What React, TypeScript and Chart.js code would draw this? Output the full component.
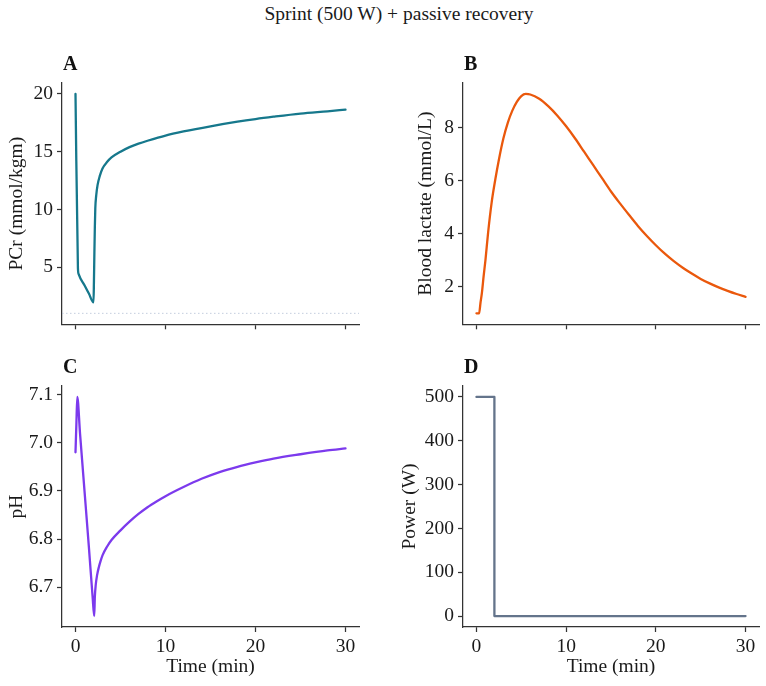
import React, { useEffect, useRef } from "react";
import { Chart, registerables } from "chart.js";

Chart.register(...registerables);

const FONT = "'Liberation Serif', 'Times New Roman', Times, serif";
const TEXT = "#1a1a1a";
const SPINE = "#333333";

const figureTitle = "Sprint (500 W) + passive recovery";
const timeLabel = "Time (min)";
const timeTicks = [0, 10, 20, 30];
const timeRange = [0, 30];

// Panel A: phosphocreatine
const pcrTime = [0, 0.27, 0.35, 1.0, 1.5, 2.0, 2.05, 2.1, 2.15, 2.2, 2.3, 2.45, 2.7, 3.0, 3.5, 4, 5, 6, 7, 8, 10, 12, 15, 18, 20, 22, 25, 28, 30];
const pcrValues = [20, 4.9, 4.4, 3.43, 2.69, 1.95, 3.8, 6.3, 8.5, 10.1, 11.2, 12.1, 12.9, 13.55, 14.1, 14.5, 15.0, 15.4, 15.7, 15.95, 16.4, 16.75, 17.2, 17.6, 17.83, 18.03, 18.3, 18.5, 18.64];
const pcrFloor = 1.0;
const pcrTicks = [5, 10, 15, 20];

// Panel B: blood lactate
const lactateTime = [0, 0.3, 0.45, 0.6, 0.8, 1.0, 1.3, 1.7, 2.1, 2.5, 3.0, 3.5, 4.0, 4.5, 5.0, 5.5, 6, 7, 8, 9, 10, 11, 12, 13, 14, 15, 16, 17, 18, 19, 20, 21, 22, 23, 24, 25, 26, 27, 28, 29, 30];
const lactateValues = [1.0, 1.0, 1.4, 1.75, 2.4, 3.0, 4.05, 5.2, 6.05, 6.8, 7.6, 8.2, 8.65, 8.98, 9.2, 9.28, 9.26, 9.1, 8.82, 8.47, 8.06, 7.6, 7.1, 6.6, 6.1, 5.6, 5.15, 4.72, 4.3, 3.92, 3.57, 3.25, 2.97, 2.72, 2.5, 2.3, 2.13, 1.98, 1.85, 1.73, 1.62];
const lactateTicks = [2, 4, 6, 8];

// Panel C: muscle pH
const phTime = [0, 0.1, 0.2, 0.5, 1.0, 1.5, 1.9, 2.08, 2.15, 2.25, 2.4, 2.6, 2.8, 3.0, 3.5, 4, 5, 6, 7, 8, 9, 10, 12, 14, 16, 18, 20, 22, 25, 28, 30];
const phValues = [6.98, 7.04, 7.095, 7.02, 6.9, 6.78, 6.68, 6.64, 6.68, 6.705, 6.725, 6.742, 6.755, 6.766, 6.784, 6.798, 6.818, 6.836, 6.852, 6.866, 6.878, 6.889, 6.908, 6.925, 6.939, 6.95, 6.959, 6.967, 6.976, 6.984, 6.988];
const phTicks = [6.7, 6.8, 6.9, 7.0, 7.1];

// Panel D: power
const powerTime = [0, 2, 2, 30];
const powerValues = [500, 500, 0, 0];
const powerTicks = [0, 100, 200, 300, 400, 500];

type PanelCfg = {
  letter: string;
  ylabel: string;
  xs: number[];
  ys: number[];
  color: string;
  yTicks: number[];
  decimals: number;
  smooth: boolean;
  showX: boolean;
  floor?: number;
  left: number;
  top: number;
  width: number;
  height: number;
  yW: number;
  xH: number;
  padRight: number;
};

const panels: PanelCfg[] = [
  {
    letter: "A", ylabel: "PCr (mmol/kgm)", xs: pcrTime, ys: pcrValues, color: "#16788c",
    yTicks: pcrTicks, decimals: 0, smooth: true, showX: false, floor: pcrFloor,
    left: 5, top: 43, width: 364, height: 297, yW: 57, xH: 15, padRight: 10,
  },
  {
    letter: "B", ylabel: "Blood lactate (mmol/L)", xs: lactateTime, ys: lactateValues, color: "#ea580c",
    yTicks: lactateTicks, decimals: 0, smooth: true, showX: false,
    left: 414, top: 43, width: 351, height: 297, yW: 49, xH: 15, padRight: 6,
  },
  {
    letter: "C", ylabel: "pH", xs: phTime, ys: phValues, color: "#7c3aed",
    yTicks: phTicks, decimals: 1, smooth: true, showX: true,
    left: 5, top: 346, width: 364, height: 333, yW: 57, xH: 52, padRight: 10,
  },
  {
    letter: "D", ylabel: "Power (W)", xs: powerTime, ys: powerValues, color: "#64748b",
    yTicks: powerTicks, decimals: 0, smooth: false, showX: true,
    left: 398, top: 346, width: 367, height: 333, yW: 65, xH: 52, padRight: 6,
  },
];

function margin(lo: number, hi: number): [number, number] {
  const p = (hi - lo) * 0.05;
  return [lo - p, hi + p];
}

function Panel({ cfg }: { cfg: PanelCfg }) {
  const ref = useRef<HTMLCanvasElement>(null);
  useEffect(() => {
    const canvas = ref.current;
    if (!canvas) return;
    const [xMin, xMax] = margin(timeRange[0], timeRange[1]);
    const allY = cfg.floor !== undefined ? [...cfg.ys, cfg.floor] : cfg.ys;
    const [yMin, yMax] = margin(Math.min(...allY), Math.max(...allY));

    const datasets: any[] = [
      {
        data: cfg.xs.map((x, i) => ({ x, y: cfg.ys[i] })),
        borderColor: cfg.color,
        borderWidth: 2.3,
        pointRadius: 0,
        fill: false,
        tension: 0,
        cubicInterpolationMode: cfg.smooth ? "monotone" : "default",
        borderJoinStyle: "round",
        borderCapStyle: "round",
      },
    ];
    if (cfg.floor !== undefined) {
      datasets.push({
        data: [
          { x: xMin, y: cfg.floor },
          { x: xMax, y: cfg.floor },
        ],
        borderColor: "#b4bfd4",
        borderWidth: 0.8,
        borderDash: [1.5, 2.5],
        pointRadius: 0,
        fill: false,
      });
    }

    const letterPlugin = {
      id: "panelLetter" + cfg.letter,
      afterDraw(chart: any) {
        const { ctx, chartArea } = chart;
        ctx.save();
        ctx.font = `bold 20px ${FONT}`;
        ctx.fillStyle = "#111";
        ctx.textAlign = "left";
        ctx.textBaseline = "alphabetic";
        ctx.fillText(cfg.letter, chartArea.left + 1, chartArea.top - 13);
        ctx.restore();
      },
    };

    const gridOpts = {
      display: true,
      drawOnChartArea: false,
      drawTicks: true,
      tickLength: 5,
      tickColor: SPINE,
      tickWidth: 1.25,
      color: SPINE,
    };
    const borderOpts = { display: true, color: SPINE, width: 1.25 };

    const chart = new Chart(canvas, {
      type: "line",
      data: { datasets },
      options: {
        animation: false,
        responsive: false,
        maintainAspectRatio: false,
        layout: { padding: { left: 0, right: cfg.padRight, top: 40, bottom: 0 } },
        plugins: {
          legend: { display: false },
          tooltip: { enabled: false },
          title: { display: false },
        },
        scales: {
          x: {
            type: "linear",
            min: xMin,
            max: xMax,
            afterBuildTicks: (s: any) => {
              s.ticks = timeTicks.map((v) => ({ value: v }));
            },
            afterFit: (s: any) => {
              s.height = cfg.xH;
            },
            ticks: {
              display: cfg.showX,
              font: { family: FONT, size: 19.5 },
              color: TEXT,
              padding: 3,
              maxRotation: 0,
              autoSkip: false,
              callback: (v: any) => String(v),
            },
            grid: gridOpts,
            border: borderOpts,
            title: {
              display: cfg.showX,
              text: timeLabel,
              font: { family: FONT, size: 19.5 },
              color: TEXT,
              padding: { top: 0, bottom: 0 },
            },
          },
          y: {
            type: "linear",
            min: yMin,
            max: yMax,
            afterBuildTicks: (s: any) => {
              s.ticks = cfg.yTicks.map((v) => ({ value: v }));
            },
            afterFit: (s: any) => {
              s.width = cfg.yW;
            },
            ticks: {
              font: { family: FONT, size: 19.5 },
              color: TEXT,
              padding: 4,
              autoSkip: false,
              callback: (v: any) => Number(v).toFixed(cfg.decimals),
            },
            grid: gridOpts,
            border: borderOpts,
            title: {
              display: true,
              text: cfg.ylabel,
              font: { family: FONT, size: 19.5 },
              color: TEXT,
              padding: { top: 0, bottom: 0 },
            },
          },
        },
      } as any,
      plugins: [letterPlugin],
    });
    return () => chart.destroy();
  }, [cfg]);

  return (
    <canvas
      ref={ref}
      width={cfg.width}
      height={cfg.height}
      style={{
        position: "absolute",
        left: cfg.left,
        top: cfg.top,
        width: cfg.width,
        height: cfg.height,
      }}
    />
  );
}

export default function App() {
  return (
    <div
      style={{
        position: "absolute",
        left: 0,
        top: 0,
        width: 766,
        height: 686,
        background: "#ffffff",
        overflow: "hidden",
      }}
    >
      <div
        style={{
          position: "absolute",
          left: 0,
          top: 2,
          width: 798,
          textAlign: "center",
          fontFamily: FONT,
          fontSize: 19.5,
          lineHeight: "24px",
          color: TEXT,
          whiteSpace: "nowrap",
        }}
      >
        {figureTitle}
      </div>
      {panels.map((p) => (
        <Panel key={p.letter} cfg={p} />
      ))}
    </div>
  );
}
